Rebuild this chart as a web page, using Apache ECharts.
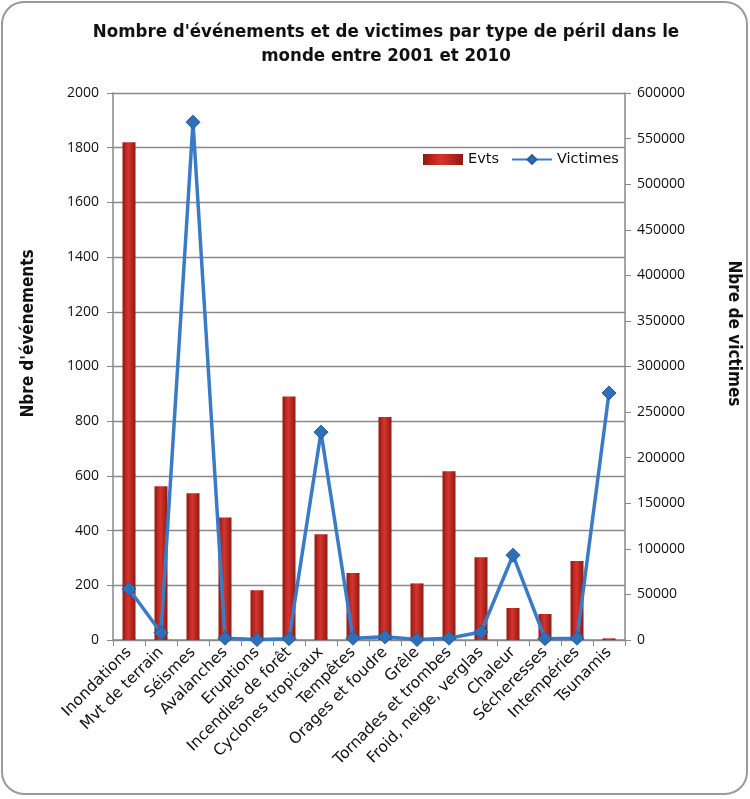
<!DOCTYPE html>
<html><head><meta charset="utf-8">
<script src="https://cdn.jsdelivr.net/npm/echarts@6/dist/echarts.min.js"></script>
<style>html,body{margin:0;padding:0;background:#fff}#c{width:750px;height:799px}</style>
</head><body><div id="c"></div>
<script>
const categories = ["Inondations","Mvt de terrain","Séismes","Avalanches","Eruptions","Incendies de forêt","Cyclones tropicaux","Tempêtes","Orages et foudre","Grêle","Tornades et trombes","Froid, neige, verglas","Chaleur","Sécheresses","Intempéries","Tsunamis"];
const evts = [1820,562,537,448,182,890,387,245,815,207,617,303,117,95,289,6];
const victimes = [56000,8000,568000,2000,500,1500,228000,2000,3500,500,2000,8800,93000,1500,2000,271000];

const chart = echarts.init(document.getElementById('c'), null, {renderer:'canvas'});
const font = 'Open Sans';
const boldFont = "'Liberation Sans Narrow', 'DejaVu Sans Condensed', 'Liberation Sans', sans-serif";
const plain = v => String(v);
chart.setOption({
  animation:false,
  backgroundColor:'#fff',
  graphic:[{type:'rect',shape:{x:2,y:2,width:745,height:792,r:22},style:{fill:'none',stroke:'#9a9a9a',lineWidth:2}}],
  title:{text:"Nombre d'événements et de victimes par type de péril dans le\nmonde entre 2001 et 2010",left:381,textAlign:'center',top:15,
    textStyle:{fontFamily:boldFont,fontWeight:'bold',fontSize:18.5,lineHeight:24,color:'#111'}},
  legend:{top:147,left:418,itemGap:12,itemWidth:40,itemHeight:11,textStyle:{fontFamily:'DejaVu Sans',fontSize:14.5,color:'#111'},
    data:[{name:'Evts',icon:'rect'},{name:'Victimes'}]},
  grid:{left:113,right:123,top:93,bottom:159,containLabel:false},
  xAxis:{type:'category',data:categories,boundaryGap:true,
    axisLine:{lineStyle:{color:'#888',width:1.5}},
    axisTick:{show:true,length:6,lineStyle:{color:'#888'},alignWithLabel:false},
    axisLabel:{rotate:45,interval:0,fontFamily:'DejaVu Sans',fontSize:15.5,color:'#111',margin:10}},
  yAxis:[
    {type:'value',min:0,max:2000,interval:200,position:'left',
     name:"Nbre d'événements",nameLocation:'middle',nameGap:76,nameRotate:90,
     nameTextStyle:{fontFamily:boldFont,fontWeight:'bold',fontSize:17,color:'#111',padding:[0,0,0,66]},
     axisLine:{show:true,lineStyle:{color:'#888',width:1.5}},axisTick:{show:true,length:6,lineStyle:{color:'#888'}},
     axisLabel:{fontFamily:font,fontSize:14,color:'#111',margin:14,formatter:plain},
     splitLine:{lineStyle:{color:'#8a8a8a',width:1.3}}},
    {type:'value',min:0,max:600000,interval:50000,position:'right',
     name:'Nbre de victimes',nameLocation:'middle',nameGap:100,nameRotate:-90,
     nameTextStyle:{fontFamily:boldFont,fontWeight:'bold',fontSize:17,color:'#111',padding:[0,66,0,0]},
     axisLine:{show:true,lineStyle:{color:'#888',width:1.5}},axisTick:{show:true,length:6,lineStyle:{color:'#888'}},
     axisLabel:{fontFamily:font,fontSize:14,color:'#111',margin:12,formatter:plain},
     splitLine:{show:false}}
  ],
  series:[
    {name:'Evts',type:'bar',data:evts,barWidth:13,yAxisIndex:0,
     itemStyle:{color:new echarts.graphic.LinearGradient(0,0,1,0,[{offset:0,color:'#8e1a14'},{offset:0.45,color:'#d9342b'},{offset:1,color:'#8e1a14'}])}},
    {name:'Victimes',type:'line',data:victimes,yAxisIndex:1,symbol:'diamond',symbolSize:14,
     lineStyle:{color:'#3b7bc6',width:3.5},itemStyle:{color:'#2f6fb8',borderColor:'#245b9a',borderWidth:1}}
  ]
});
</script></body></html>
